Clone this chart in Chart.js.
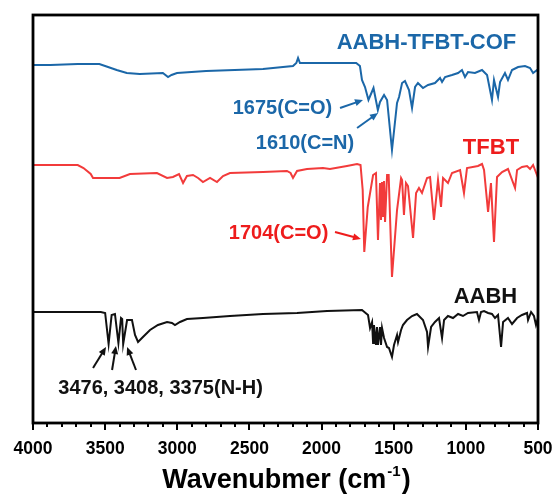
<!DOCTYPE html>
<html>
<head>
<meta charset="utf-8">
<script src="https://cdn.jsdelivr.net/npm/chart.js@4/dist/chart.umd.min.js"></script>
<style>
  html, body { margin: 0; padding: 0; background: #fff; }
  #ftir { display: block; }
</style>
</head>
<body>
<canvas id="ftir" width="554" height="495"></canvas>
<script>
// FTIR spectra, transmittance in arbitrary units (traces stacked with an offset)
const xTicks = [4000, 3500, 3000, 2500, 2000, 1500, 1000, 500];

const cofWn = [4000, 3880, 3690, 3540, 3480, 3420, 3350, 3260, 3100, 3064, 3040, 3002, 2800, 2406, 2267, 2198,
    2175, 2163, 2150, 2101, 2059, 1900, 1760, 1734, 1720, 1699, 1675, 1640, 1610, 1595, 1567, 1546, 1512, 1477,
    1463, 1442, 1422, 1394, 1373, 1352, 1332, 1297, 1262, 1214, 1179, 1165, 1144, 1096, 1054, 1027, 1006, 985,
    937, 888, 853, 819, 805, 777, 763, 729, 708, 680, 638, 590, 555, 534, 507, 500];
const cofT = [358, 358, 359, 359, 356, 353, 350, 349, 350, 346, 348, 350, 352, 354, 356, 357,
    360, 365, 360, 360, 360, 360, 360, 357, 343, 336, 323, 335, 313, 321, 328, 323, 273, 320,
    326, 340, 342, 333, 315, 336, 340, 335, 338, 340, 345, 341, 346, 348, 350, 353, 346, 351,
    350, 353, 348, 323, 343, 326, 341, 350, 343, 353, 356, 357, 355, 350, 353, 352];

const tfbtWn = [4000, 3690, 3650, 3600, 3584, 3400, 3328, 3141, 3071, 3030, 2988, 2960, 2933, 2891, 2856, 2822,
    2773, 2725, 2683, 2635, 2406, 2240, 2215, 2198, 2170, 2101, 1990, 1942, 1824, 1754, 1730, 1715, 1704, 1680,
    1643, 1623, 1609, 1595, 1588, 1581, 1574, 1567, 1560, 1546, 1535, 1512, 1477, 1449, 1442, 1429, 1415, 1401,
    1366, 1345, 1325, 1304, 1269, 1248, 1221, 1193, 1172, 1158, 1124, 1096, 1040, 1013, 992, 916, 888, 874,
    846, 826, 805, 784, 749, 708, 659, 645, 611, 576, 555, 534, 507, 500];
const tfbtT = [258, 258, 255, 249, 245, 245, 249, 250, 245, 246, 249, 240, 247, 248, 245, 241,
    245, 241, 247, 250, 251, 252, 250, 245, 252, 254, 255, 254, 257, 259, 258, 233, 171, 216,
    248, 250, 183, 240, 203, 241, 206, 242, 201, 248, 248, 146, 213, 245, 243, 208, 240, 237,
    185, 230, 235, 230, 245, 246, 203, 243, 216, 245, 240, 250, 253, 230, 255, 257, 259, 253,
    211, 240, 181, 246, 251, 254, 235, 253, 256, 257, 254, 258, 248, 251];

const aabhWn = [4000, 3530, 3500, 3476, 3455, 3432, 3408, 3390, 3382, 3375, 3348, 3314, 3293, 3272, 3238, 3189,
    3134, 3071, 3037, 3016, 2981, 2933, 2822, 2635, 2406, 2170, 1962, 1720, 1678, 1664, 1650, 1643, 1637, 1623,
    1616, 1609, 1595, 1588, 1581, 1567, 1546, 1533, 1512, 1498, 1477, 1470, 1449, 1436, 1408, 1373, 1339, 1297,
    1269, 1262, 1241, 1214, 1186, 1165, 1151, 1124, 1089, 1054, 1020, 985, 923, 909, 895, 874, 846, 819,
    798, 777, 756, 742, 708, 680, 645, 611, 576, 569, 548, 528, 514, 500];
const aabhT = [111, 111, 110, 79, 108, 109, 80, 105, 104, 79, 103, 103, 88, 81, 86, 93,
    98, 101, 100, 98, 101, 104, 105, 107, 109, 110, 112, 113, 108, 95, 101, 80, 98, 78,
    96, 78, 96, 78, 95, 85, 76, 75, 66, 78, 88, 81, 93, 98, 103, 107, 109, 103,
    91, 76, 96, 101, 105, 85, 103, 107, 105, 109, 107, 110, 111, 103, 111, 112, 110, 109,
    105, 108, 76, 101, 105, 99, 105, 108, 110, 103, 111, 107, 98, 105];

// text labels: [text, wavenumber, value, colour, size]
const labels = [
    ['AABH-TFBT-COF', 1273, 380, '#1b67a8', 22],
    ['TFBT', 826, 275, '#ee1c1c', 22],
    ['AABH', 864, 126, '#111111', 22],
    ['1675(C=O)', 2271, 315, '#1b67a8', 20],
    ['1610(C=N)', 2115, 280, '#1b67a8', 20],
    ['1704(C=O)', 2298, 190, '#ee1c1c', 20],
    ['3476, 3408, 3375(N-H)', 3116, 35, '#111111', 20]
];

// arrows: [fromWn, fromT, toWn, toT, colour]
const arrows = [
    [1872, 315, 1713, 323, '#1b67a8'],
    [1754, 295, 1609, 310, '#1b67a8'],
    [1907, 191, 1727, 184, '#ee1c1c'],
    [3584, 55, 3494, 76, '#111111'],
    [3452, 53, 3425, 77, '#111111'],
    [3286, 53, 3348, 76, '#111111']
];

const FONT = "'Liberation Sans', Arial, sans-serif";

function toPoints(wn, t) {
    return wn.map((w, i) => ({ x: w, y: t[i] }));
}

const decorations = {
    id: 'decorations',
    afterDraw(chart) {
        const ctx = chart.ctx;
        const area = chart.chartArea;
        const xs = chart.scales.x;
        const ys = chart.scales.y;
        ctx.save();

        // frame
        ctx.strokeStyle = '#000';
        ctx.lineWidth = 2.8;
        ctx.strokeRect(area.left, area.top, area.right - area.left, area.bottom - area.top);

        // major + minor ticks below the axis
        ctx.lineWidth = 2;
        for (let w = 500; w <= 4000; w += 100) {
            const px = Math.round(xs.getPixelForValue(w));
            const len = w % 500 === 0 ? 7 : 4;
            ctx.beginPath();
            ctx.moveTo(px, area.bottom);
            ctx.lineTo(px, area.bottom + len);
            ctx.stroke();
        }

        // arrows
        arrows.forEach(([w0, t0, w1, t1, col]) => {
            const x0 = xs.getPixelForValue(w0), y0 = ys.getPixelForValue(t0);
            const x1 = xs.getPixelForValue(w1), y1 = ys.getPixelForValue(t1);
            const ang = Math.atan2(y1 - y0, x1 - x0);
            const head = 8;
            ctx.strokeStyle = col;
            ctx.fillStyle = col;
            ctx.lineWidth = 2;
            ctx.beginPath();
            ctx.moveTo(x0, y0);
            ctx.lineTo(x1 - Math.cos(ang) * head * 0.7, y1 - Math.sin(ang) * head * 0.7);
            ctx.stroke();
            ctx.beginPath();
            ctx.moveTo(x1, y1);
            ctx.lineTo(x1 - head * Math.cos(ang) + 3.5 * Math.sin(ang), y1 - head * Math.sin(ang) - 3.5 * Math.cos(ang));
            ctx.lineTo(x1 - head * Math.cos(ang) - 3.5 * Math.sin(ang), y1 - head * Math.sin(ang) + 3.5 * Math.cos(ang));
            ctx.closePath();
            ctx.fill();
        });

        // labels
        ctx.textAlign = 'center';
        ctx.textBaseline = 'middle';
        labels.forEach(([txt, w, t, col, size]) => {
            ctx.font = 'bold ' + size + 'px ' + FONT;
            ctx.fillStyle = col;
            ctx.fillText(txt, xs.getPixelForValue(w), ys.getPixelForValue(t));
        });

        // axis title with superscript
        const main = 'Wavenubmer (cm', sup = '-1', tail = ')';
        ctx.fillStyle = '#000';
        ctx.textAlign = 'left';
        ctx.textBaseline = 'alphabetic';
        ctx.font = 'bold 27px ' + FONT;
        const wMain = ctx.measureText(main).width;
        const wTail = ctx.measureText(tail).width;
        ctx.font = 'bold 15px ' + FONT;
        const wSup = ctx.measureText(sup).width;
        let x = (area.left + area.right) / 2 - (wMain + wSup + wTail) / 2;
        const base = 488;
        ctx.font = 'bold 27px ' + FONT;
        ctx.fillText(main, x, base);
        x += wMain;
        ctx.font = 'bold 15px ' + FONT;
        ctx.fillText(sup, x + 1, base - 12);
        x += wSup + 2;
        ctx.font = 'bold 27px ' + FONT;
        ctx.fillText(tail, x, base);

        ctx.restore();
    }
};

const data = {
    datasets: [
        {
            label: 'AABH-TFBT-COF',
            data: toPoints(cofWn, cofT),
            borderColor: '#1b67a8',
            borderWidth: 2,
            pointRadius: 0,
            tension: 0
        },
        {
            label: 'TFBT',
            data: toPoints(tfbtWn, tfbtT),
            borderColor: '#f23b3b',
            borderWidth: 2,
            pointRadius: 0,
            tension: 0
        },
        {
            label: 'AABH',
            data: toPoints(aabhWn, aabhT),
            borderColor: '#111111',
            borderWidth: 2,
            pointRadius: 0,
            tension: 0
        }
    ]
};

const config = {
    type: 'line',
    data: data,
    options: {
        responsive: false,
        animation: false,
        layout: { padding: { left: 33, right: 16, top: 15, bottom: 0 } },
        plugins: {
            legend: { display: false },
            tooltip: { enabled: false }
        },
        scales: {
            x: {
                type: 'linear',
                min: 500,
                max: 4000,
                reverse: true,
                afterBuildTicks: (scale) => {
                    scale.ticks = xTicks.map(v => ({ value: v }));
                },
                afterFit: (scale) => {
                    scale.height = 72;
                    scale.paddingLeft = 0;
                    scale.paddingRight = 0;
                },
                ticks: {
                    autoSkip: false,
                    maxRotation: 0,
                    padding: 16,
                    color: '#000',
                    font: { family: FONT, size: 17.5, weight: 'bold' },
                    callback: (value) => String(value)
                },
                grid: { display: false, drawTicks: false },
                border: { display: false }
            },
            y: {
                display: false,
                min: 0,
                max: 408
            }
        }
    },
    plugins: [decorations]
};

new Chart(document.getElementById('ftir'), config);
</script>
</body>
</html>
